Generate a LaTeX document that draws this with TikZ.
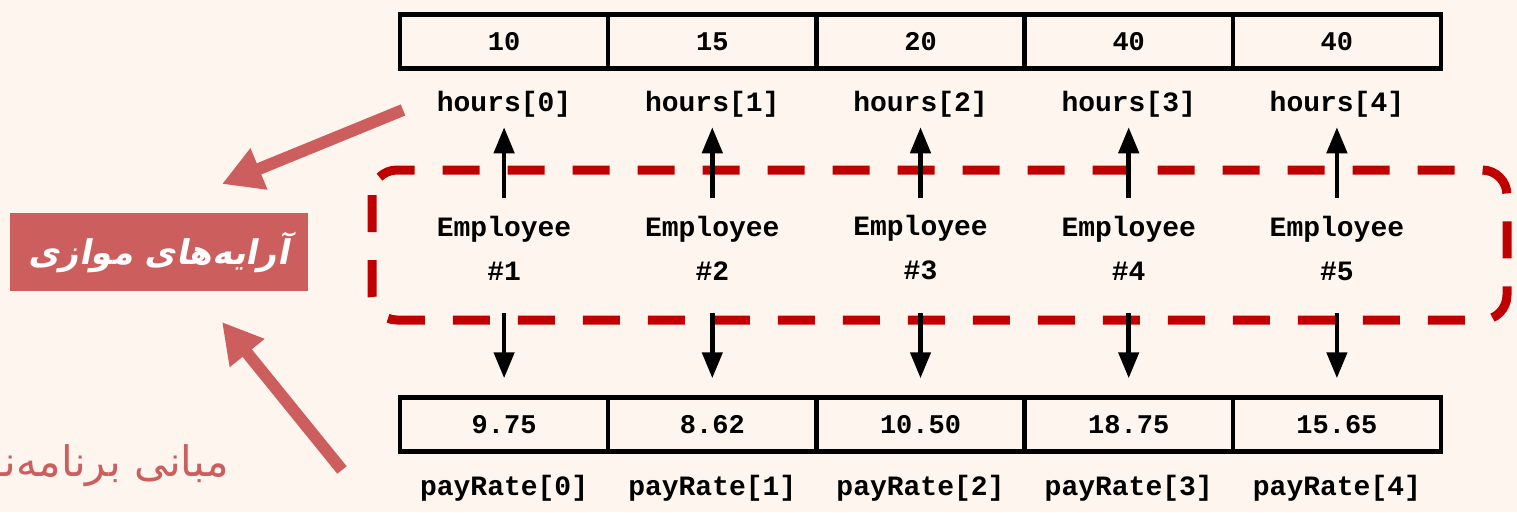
\documentclass[tikz,border=0pt]{standalone}
\usepackage{fontspec}
\setmonofont{Liberation Mono}
\TeXXeTstate=1
\newfontfamily\fatitle[Script=Arabic,FakeSlant=0.2]{DejaVu Sans}
\newfontfamily\fanormal[Script=Arabic]{DejaVu Sans}
\usetikzlibrary{arrows.meta,calc}
\definecolor{bgc}{RGB}{254,245,239}
\definecolor{pinkc}{RGB}{205,94,94}
\definecolor{dashc}{RGB}{192,0,0}
\begin{document}
\begin{tikzpicture}[x=1pt,y=-1pt,
  cell/.style={draw=black,line width=4.5pt,minimum width=208.2pt,minimum height=54pt,inner sep=0pt,font=\ttfamily\bfseries\fontsize{27}{27}\selectfont},
  lab/.style={inner sep=4pt,font=\ttfamily\bfseries\fontsize{28}{28}\selectfont},
  emp/.style={align=center,inner sep=0pt,font=\ttfamily\bfseries\fontsize{28}{44}\selectfont},
  link/.style={-{Triangle[width=20pt,length=26pt]},line width=4.5pt,draw=black},
  callout/.style={-{Triangle[width=42pt,length=40pt]},line width=12pt,draw=pinkc},
  group/.style={draw=dashc,line width=9pt,dash pattern=on 37pt off 28pt,rounded corners=25pt}]
\fill[bgc] (0,0) rectangle (1517,512);
\useasboundingbox (0,0) rectangle (1517,512);
\draw[group] (372,170) rectangle (1507,320);
\foreach \v/\p [count=\i from 0] in {10/9.75,15/8.62,20/10.50,40/18.75,40/15.65}{
  \pgfmathsetmacro{\cx}{400+208.2*(\i+0.5)}
  \pgfmathtruncatemacro{\n}{\i+1}
  \node[cell] (top\i) at (\cx,41.5) {\v};
  \node[lab] (h\i) at (\cx,104) {hours[\i]};
  \node[emp] (e\i) at (\cx,248) {Employee\\\#\n};
  \node[cell] (bot\i) at (\cx,424.5) {\p};
  \node[lab] (p\i) at (\cx,488) {payRate[\i]};
  \coordinate (u\i) at (\cx,198);
  \coordinate (d\i) at (\cx,313);
  \draw[link,shorten >=6pt] (u\i) -- (h\i.south);
  \draw[link,shorten >=17pt] (d\i) -- (bot\i.north);
}
\node[fill=pinkc,minimum width=298pt,minimum height=78pt,inner sep=0pt,text=white,font=\fatitle\bfseries\fontsize{34}{34}\selectfont] (title) at (158.5,252) {\beginR آرایه‌های موازی\endR};
\node[anchor=east,inner sep=0pt,text=pinkc,font=\fanormal\fontsize{42}{42}\selectfont] (sub) at (229,466) {\beginR مبانی برنامه‌نویسی\endR};
\coordinate (a1) at (403,110);
\coordinate (t1) at (222,184);
\coordinate (a2) at (342,470);
\coordinate (t2) at (222,322);
\draw[callout] (a1) -- (t1);
\draw[callout] (a2) -- (t2);
\end{tikzpicture}
\end{document}
